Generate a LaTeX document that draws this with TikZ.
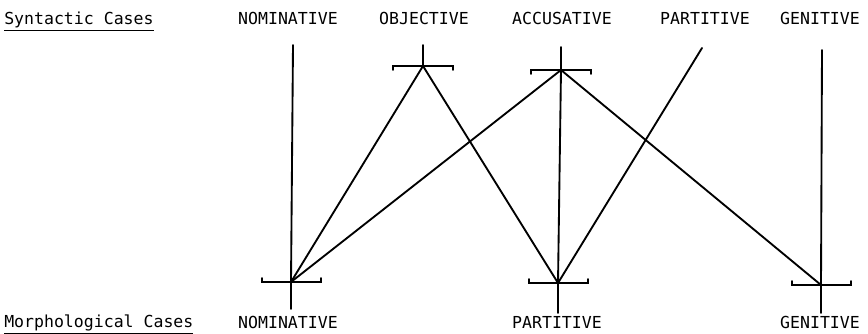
\documentclass[tikz,border=0pt]{standalone}
\usepackage{fontspec}
\setmonofont{DejaVu Sans Mono}
\usetikzlibrary{positioning, calc}

\tikzset{
    case/.style={font=\ttfamily\fontsize{12.4}{14}\selectfont, inner sep=0pt, anchor=base},
    link/.style={line width=1.4pt, line cap=round},
}

\begin{document}
\begin{tikzpicture}[x=0.75pt, y=-0.75pt]
    \useasboundingbox (0,0) rectangle (868,334);

    \node[case, anchor=base west] (syn) at (4,25) {\underline{Syntactic Cases}};
    \node[case, anchor=base west] (mor) at (4,328) {\underline{Morphological Cases}};

    \node[case] (sNom) at (288,25) {NOMINATIVE};
    \node[case] (sObj) at (424,25) {OBJECTIVE};
    \node[case] (sAcc) at (562,25) {ACCUSATIVE};
    \node[case] (sPar) at (705,25) {PARTITIVE};
    \node[case] (sGen) at (820,25) {GENITIVE};

    \node[case] (mNom) at (288,329) {NOMINATIVE};
    \node[case] (mPar) at (557,329) {PARTITIVE};
    \node[case] (mGen) at (820,329) {GENITIVE};

    \coordinate (tNom) at (293,45);
    \coordinate (tObj) at (423,45);
    \coordinate (tAcc) at (561,47);
    \coordinate (tPar) at (702,48);
    \coordinate (tGen) at (822,50);
    \coordinate (jObj) at (423,66);
    \coordinate (jAcc) at (561,70);

    \coordinate (bNom) at (291,282);
    \coordinate (bPar) at (558,283);
    \coordinate (bGen) at (821,285);
    \coordinate (eNom) at (291,309);
    \coordinate (ePar) at (558,313);
    \coordinate (eGen) at (821,313);

    \foreach \j in {jObj,jAcc}
        \draw[link] ($(\j)+(-30,4)$) -- ($(\j)+(-30,0)$) -- ($(\j)+(30,0)$) -- ($(\j)+(30,4)$);
    \foreach \j in {bNom,bPar,bGen}
        \draw[link] ($(\j)+(-29,-4)$) -- ($(\j)+(-29,0)$) -- ($(\j)+(30,0)$) -- ($(\j)+(30,-4)$);

    \draw[link] (tNom) -- (bNom) -- (eNom);
    \draw[link] (tObj) -- (jObj);
    \draw[link] (tAcc) -- (jAcc);
    \draw[link] (tGen) -- (bGen) -- (eGen);
    \draw[link] (bPar) -- (ePar);

    \draw[link] (jObj) -- (bNom);
    \draw[link] (jObj) -- (bPar);
    \draw[link] (jAcc) -- (bNom);
    \draw[link] (jAcc) -- (bPar);
    \draw[link] (jAcc) -- (bGen);
    \draw[link] (tPar) -- (bPar);
\end{tikzpicture}
\end{document}
